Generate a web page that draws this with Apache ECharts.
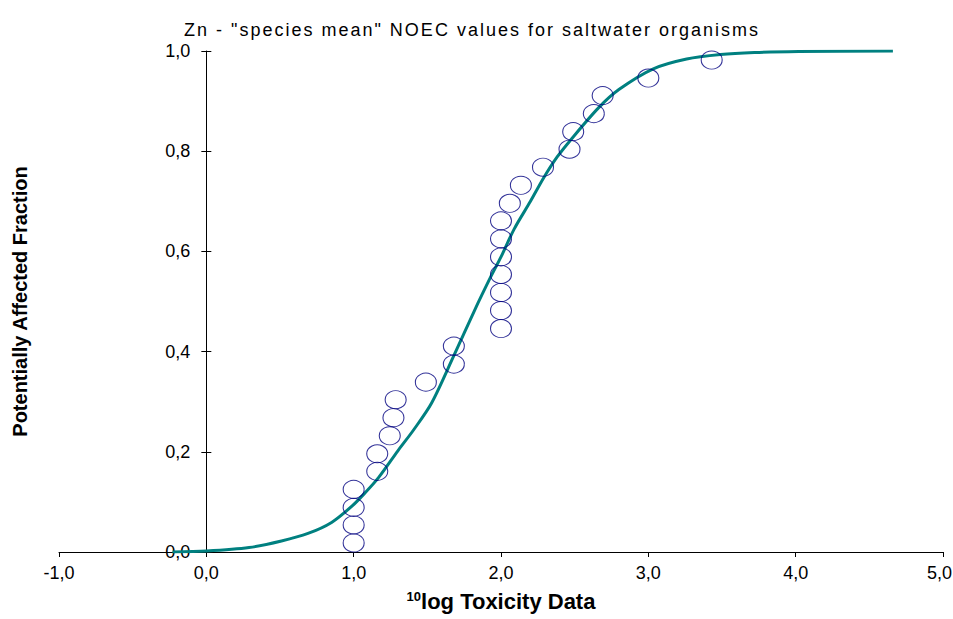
<!DOCTYPE html>
<html>
<head>
<meta charset="utf-8">
<script src="https://cdn.jsdelivr.net/npm/echarts@6/dist/echarts.min.js"></script>
<style>html,body{margin:0;padding:0;background:#fff}#c{width:953px;height:619px}</style>
</head>
<body>
<div id="c"></div>
<script>
// Observed toxicity data (10log NOEC) and their plotting positions
const obsX = [1.0, 1.0, 1.0, 1.0, 1.16, 1.16, 1.245, 1.27, 1.285, 1.49, 1.68, 1.68,
  2.0, 2.0, 2.0, 2.0, 2.0, 2.0, 2.0, 2.06, 2.135, 2.285, 2.465, 2.49, 2.63, 2.69, 3.0, 3.43];
const obsY = [0.018, 0.054, 0.089, 0.125, 0.161, 0.196, 0.232, 0.268, 0.304, 0.339, 0.375, 0.411,
  0.446, 0.482, 0.518, 0.554, 0.589, 0.625, 0.661, 0.696, 0.732, 0.768, 0.804, 0.839, 0.875, 0.911, 0.946, 0.982];
// Fitted curve
const curveX = [-0.23, 0.0, 0.29, 0.51, 0.69, 0.85, 0.99, 1.08, 1.17, 1.30, 1.41, 1.53, 1.68, 1.82, 1.93,
  2.0, 2.09, 2.20, 2.29, 2.38, 2.48, 2.66, 2.80, 3.03, 3.26, 3.49, 3.72, 4.02, 4.66];
const curveY = [0.0, 0.002, 0.009, 0.022, 0.037, 0.059, 0.092, 0.119, 0.149, 0.202, 0.245, 0.298, 0.392, 0.482, 0.549,
  0.589, 0.645, 0.700, 0.747, 0.788, 0.825, 0.886, 0.923, 0.964, 0.984, 0.993, 0.997, 0.999, 1.0];
const xTicks = {min: -1, max: 5, step: 1};
const yTicks = {min: 0, max: 1, step: 0.2};
const titleText = 'Zn - "species mean" NOEC values for saltwater organisms';
const yName = 'Potentially Affected Fraction';

const fmt = v => Number(v).toFixed(1).replace('.', ',');
const FONT = '"Liberation Sans", Arial, sans-serif';
const W = 953, H = 619;
const G = {left: 59, right: 10, top: 51, bottom: 67};
// y axis is drawn where x = 0
const yOffset = -((0 - xTicks.min) / (xTicks.max - xTicks.min)) * (W - G.left - G.right);

const chart = echarts.init(document.getElementById('c'), null, {renderer: 'svg', width: W, height: H});
chart.setOption({
  animation: false,
  backgroundColor: '#ffffff',
  title: {
    text: titleText, left: 467, top: 16, textAlign: 'center',
    textStyle: {fontFamily: FONT, fontSize: 18, fontWeight: 'normal', color: '#000'}
  },
  grid: {left: G.left, right: G.right, top: G.top, bottom: G.bottom, containLabel: false, outerBoundsMode: 'none'},
  xAxis: {
    type: 'value', min: xTicks.min, max: xTicks.max, interval: xTicks.step,
    splitLine: {show: false},
    axisLine: {onZero: false, lineStyle: {color: '#000', width: 1}},
    axisTick: {show: true, inside: false, length: 5, lineStyle: {color: '#000'}},
    axisLabel: {
      formatter: v => (v === xTicks.max ? '{e|' + fmt(v) + '}' : fmt(v)),
      fontFamily: FONT, fontSize: 18, color: '#000', margin: 12, showMaxLabel: true, showMinLabel: true,
      rich: {e: {fontFamily: FONT, fontSize: 18, color: '#000', padding: [0, 7, 0, 0]}}
    },
    name: '{sup|10}{b|log Toxicity Data}', nameLocation: 'middle', nameGap: 38,
    nameTextStyle: {
      rich: {
        sup: {fontFamily: FONT, fontSize: 13, fontWeight: 'bold', color: '#000', verticalAlign: 'top', padding: [0,0,10,0]},
        b: {fontFamily: FONT, fontSize: 22, fontWeight: 'bold', color: '#000'}
      }
    }
  },
  yAxis: [{
    type: 'value', min: yTicks.min, max: yTicks.max, interval: yTicks.step, position: 'left', offset: yOffset,
    splitLine: {show: false},
    axisLine: {show: true, onZero: false, lineStyle: {color: '#000', width: 1}},
    axisTick: {show: true, inside: false, length: 5, lineStyle: {color: '#000'}},
    axisLabel: {formatter: fmt, fontFamily: FONT, fontSize: 18, color: '#000', margin: 16},
    name: yName, nameLocation: 'middle', nameGap: 176,
    nameTextStyle: {fontFamily: FONT, fontSize: 20, fontWeight: 'bold', color: '#000'}
  }, {
    type: 'value', min: yTicks.min, max: yTicks.max, interval: yTicks.step, position: 'left', offset: yOffset,
    splitLine: {show: false},
    axisLine: {show: false, onZero: false},
    axisTick: {show: true, inside: true, length: 5, lineStyle: {color: '#000'}},
    axisLabel: {show: false}
  }],
  series: [
    {
      type: 'line', data: curveX.map((x, i) => [x, curveY[i]]),
      showSymbol: false, smooth: 0.3, z: 2,
      lineStyle: {color: '#008080', width: 3}, silent: true
    },
    {
      type: 'scatter', data: obsX.map((x, i) => [x, obsY[i]]),
      symbol: 'circle', symbolSize: [21, 18], z: 3, silent: true,
      itemStyle: {color: 'rgba(0,0,0,0)', borderColor: '#000080', borderWidth: 1}
    }
  ]
});
// the reference title is set with wide character spacing
document.querySelectorAll('#c svg text').forEach(t => {
  if (t.textContent === titleText) t.style.letterSpacing = '2px';
});
</script>
</body>
</html>
